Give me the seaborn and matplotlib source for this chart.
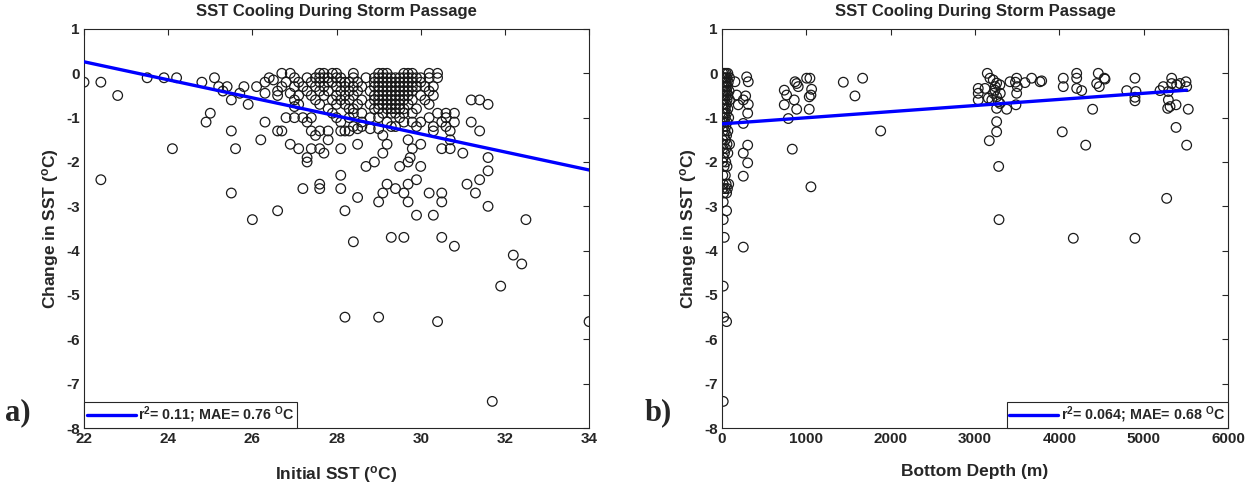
import matplotlib
matplotlib.use('Agg')
import matplotlib.pyplot as plt
import pandas as pd
import seaborn as sns

# ---- panel a) : initial SST vs change in SST ----
# scattered points (initial SST in degC, change in SST in degC)
sst_sparse = [
    (22.0, -0.2), (22.4, -0.2), (22.8, -0.5), (22.4, -2.4), (23.5, -0.1), (23.9, -0.1),
    (24.2, -0.1), (24.1, -1.7), (24.8, -0.2), (24.9, -1.1), (25.0, -0.9), (25.1, -0.1),
    (25.2, -0.3), (25.3, -0.4), (25.4, -0.3), (25.5, -0.6), (25.5, -1.3), (25.6, -1.7),
    (25.5, -2.7), (25.7, -0.45), (25.8, -0.3), (25.9, -0.7), (26.0, -3.3), (26.1, -0.3),
    (26.2, -1.5), (26.3, -0.45), (26.5, -0.15), (26.6, -0.5), (26.6, -3.1), (26.6, -1.3),
    (26.7, -1.3), (26.8, -1.0), (26.9, -0.45), (26.9, -1.6), (27.0, -0.6), (27.0, -1.0),
    (27.0, -0.75), (27.1, -0.7), (27.1, -1.7), (27.2, -2.6), (27.3, -1.9), (27.3, -2.0),
    (27.4, -1.0), (27.4, -1.3), (27.4, -1.7), (27.5, -1.4), (27.6, -1.3), (27.6, -1.7),
    (27.6, -2.5), (27.6, -2.6), (27.7, -1.8), (27.8, -1.3), (27.8, -1.5), (27.9, -0.9),
    (28.0, -1.0), (28.1, -1.1), (28.1, -1.3), (28.1, -1.7), (28.1, -2.3), (28.1, -2.6),
    (28.2, -1.3), (28.2, -3.1), (28.2, -5.5), (28.3, -1.3), (28.4, -0.9), (28.4, -1.2),
    (28.4, -3.8), (28.5, -1.25), (28.5, -1.6), (28.5, -2.8), (28.6, -1.2), (28.7, -2.1),
    (28.8, -1.25), (28.9, -2.0), (29.0, -1.25), (29.0, -2.9), (29.0, -5.5), (29.1, -1.4),
    (29.1, -1.8), (29.1, -2.7), (29.2, -1.6), (29.2, -2.5), (29.3, -3.7), (29.4, -1.2),
    (29.4, -2.6), (29.5, -2.1), (29.6, -1.1), (29.6, -2.7), (29.6, -3.7), (29.7, -1.5),
    (29.7, -2.0), (29.7, -2.5), (29.7, -2.9), (29.75, -1.9), (29.8, -1.7), (29.9, -2.4),
    (29.9, -3.2), (30.0, -1.6), (30.0, -2.1), (30.2, -2.7), (30.3, -1.3), (30.3, -3.2),
    (30.4, -0.9), (30.4, -5.6), (30.5, -1.1), (30.5, -1.7), (30.5, -2.7), (30.5, -2.9),
    (30.5, -3.7), (30.6, -0.9), (30.7, -1.3), (30.7, -1.5), (30.7, -1.7), (30.8, -0.9),
    (30.8, -1.1), (30.8, -3.9), (31.0, -1.8), (31.1, -2.5), (31.2, -0.6), (31.2, -1.1),
    (31.3, -2.7), (31.4, -0.6), (31.4, -1.3), (31.4, -2.4), (31.6, -0.7), (31.6, -1.9),
    (31.6, -2.2), (31.6, -3.0), (31.7, -7.4), (31.9, -4.8), (32.2, -4.1), (32.4, -4.3),
    (32.5, -3.3), (34.0, -5.6),
]
# dense band near zero: change-in-SST level and the initial SST of each circle on it
sst_rows_dy = [0.0, -0.1, -0.2, -0.3, -0.4, -0.5, -0.6, -0.7, -0.8, -0.9, -1.0, -1.1, -1.2]
sst_rows_x = [
    [26.7, 26.9, 27.6, 27.7, 27.9, 28.0, 28.4, 29.0, 29.1, 29.2, 29.6, 29.7, 29.8, 30.2, 30.4],
    [26.4, 27.0, 27.3, 27.5, 27.6, 27.7, 27.8, 28.0, 28.1, 28.4, 28.7, 28.9, 29.0, 29.1, 29.2,
     29.3, 29.4, 29.5, 29.6, 29.7, 29.8, 29.9, 30.0, 30.2, 30.4],
    [26.3, 26.8, 27.1, 27.4, 27.6, 27.8, 27.9, 28.1, 28.2, 28.3, 28.5, 28.9, 29.0, 29.1, 29.2,
     29.3, 29.4, 29.5, 29.6, 29.7, 29.8, 30.0],
    [26.7, 27.0, 27.2, 27.5, 27.7, 28.0, 28.2, 28.4, 28.6, 28.9, 29.0, 29.1, 29.2, 29.3, 29.4,
     29.5, 29.6, 29.7, 29.8, 29.9, 30.1, 30.3],
    [26.6, 27.3, 27.6, 27.8, 28.1, 28.3, 28.5, 28.8, 29.0, 29.1, 29.2, 29.3, 29.4, 29.5, 29.6,
     29.7, 29.8, 30.2],
    [27.1, 27.4, 27.7, 28.0, 28.2, 28.4, 28.9, 29.0, 29.1, 29.2, 29.3, 29.4, 29.5, 29.6, 29.7,
     30.0, 30.3],
    [27.5, 27.9, 28.1, 28.3, 28.6, 28.9, 29.0, 29.1, 29.2, 29.3, 29.4, 29.5, 29.6, 29.8, 30.1],
    [27.6, 28.0, 28.2, 28.5, 28.8, 29.0, 29.1, 29.2, 29.3, 29.4, 29.5, 29.7, 30.2],
    [27.8, 28.3, 28.4, 28.9, 29.0, 29.2, 29.3, 29.4, 29.5, 29.6, 29.9],
    [28.6, 29.1, 29.3, 29.4, 29.6, 29.8],
    [27.2, 28.3, 28.8, 29.0, 29.5, 30.2, 30.6],
    [26.3, 27.3, 28.6, 29.2, 29.8, 30.0],
    [29.3, 29.9, 30.3, 30.6],
]
sst_fit_x = [22, 34]
sst_fit_y = [0.26, -2.18]
sst_fit_label = 'r$^2$= 0.11; MAE= 0.76 $^{O}$C'

# ---- panel b) : bottom depth vs change in SST ----
depth_sparse = [
    (154, -0.19), (174, -0.49), (193, -0.71), (293, -0.08), (312, -0.19), (281, -0.51),
    (312, -0.7), (305, -0.9), (253, -0.6), (253, -1.13), (305, -1.62), (253, -1.8),
    (305, -2.02), (253, -2.32), (253, -3.92), (739, -0.38), (767, -0.49), (739, -0.71),
    (866, -0.19), (886, -0.23), (904, -0.3), (857, -0.6), (886, -0.81), (787, -1.02),
    (1004, -0.11), (1043, -0.11), (1063, -0.36), (1035, -0.53), (1055, -0.49), (1035, -0.81),
    (834, -1.71), (1055, -2.56), (1439, -0.2), (1577, -0.51), (1668, -0.11), (1882, -1.3),
    (3146, 0.0), (3178, -0.11), (3217, -0.15), (3257, -0.22), (3296, -0.26), (3039, -0.34),
    (3039, -0.45), (3039, -0.6), (3119, -0.34), (3158, -0.56), (3237, -0.38), (3257, -0.53),
    (3277, -0.64), (3257, -0.79), (3296, -0.68), (3257, -1.09), (3257, -1.32), (3170, -1.52),
    (3281, -2.1), (3285, -3.3), (3376, -0.81), (3415, -0.19), (3494, -0.11), (3502, -0.3),
    (3494, -0.45), (3486, -0.71), (3593, -0.21), (3672, -0.11), (3771, -0.19), (3791, -0.17),
    (3220, -0.45), (3240, -0.3), (3200, -0.6), (3300, -0.45), (3480, -0.2),
    (4047, -0.11), (4047, -0.3), (4206, 0.0), (4206, -0.11), (4206, -0.34), (4265, -0.39),
    (4462, 0.0), (4443, -0.23), (4474, -0.3), (4534, -0.11), (4542, -0.13), (4395, -0.81),
    (4035, -1.32), (4313, -1.62), (4166, -3.72), (4799, -0.39), (4897, -0.11), (4909, -0.41),
    (4897, -0.54), (4897, -0.62), (4897, -3.72), (5194, -0.39), (5233, -0.3), (5332, -0.11),
    (5332, -0.23), (5391, -0.26), (5431, -0.23), (5502, -0.19), (5510, -0.3), (5293, -0.41),
    (5293, -0.6), (5313, -0.75), (5384, -0.71), (5285, -0.79), (5529, -0.81), (5384, -1.22),
    (5510, -1.62), (5273, -2.82),
]
# the column of shallow stations (depth < 100 m), one row per change-in-SST level
depth_rows_dy = [0.0, -0.1, -0.2, -0.3, -0.4, -0.5, -0.6, -0.7, -0.8, -0.9, -1.0, -1.1,
                 -1.2, -1.3, -1.4, -1.5, -1.6, -1.7, -1.8, -1.9, -2.0, -2.1, -2.3, -2.5,
                 -2.6, -2.7, -2.9, -3.1, -3.3, -3.7, -4.8, -5.5, -5.6, -7.4]
depth_rows_x = [
    [10, 30, 50, 70], [5, 20, 40, 60, 90], [10, 30, 50, 75], [5, 25, 45, 65],
    [15, 35, 55, 85], [5, 25, 45, 70], [15, 35, 60, 90], [5, 25, 50], [15, 40, 70],
    [5, 30, 55], [15, 40, 80], [5, 30, 60], [20, 45], [10, 35, 70], [25, 55], [5, 40],
    [20, 60, 90], [10, 45], [30, 70], [15], [5, 45], [25, 60], [10, 40], [15, 50, 80],
    [5, 35, 65], [20, 55], [15], [55], [15], [27], [15], [20], [55], [15],
]
depth_fit_x = [0, 5510]
depth_fit_y = [-1.14, -0.38]
depth_fit_label = 'r$^2$= 0.064; MAE= 0.68 $^{O}$C'


def to_frame(sparse, rows_dy, rows_x, xname):
    """ Flattens the scattered pairs and the row lists into one df """
    xs = [p[0] for p in sparse]
    ys = [p[1] for p in sparse]
    for dy, row in zip(rows_dy, rows_x):
        xs += row
        ys += [dy] * len(row)
    return pd.DataFrame({xname: xs, 'dsst': ys})


df_sst = to_frame(sst_sparse, sst_rows_dy, sst_rows_x, 'sst')
df_depth = to_frame(depth_sparse, depth_rows_dy, depth_rows_x, 'depth')

sns.set_style('white')
plt.rcParams['font.family'] = ['Liberation Sans', 'DejaVu Sans']
plt.rcParams['font.weight'] = 'bold'
plt.rcParams['axes.unicode_minus'] = False
plt.rcParams['mathtext.fontset'] = 'custom'
plt.rcParams['mathtext.rm'] = 'Liberation Sans:bold'
plt.rcParams['mathtext.it'] = 'Liberation Sans:bold'
plt.rcParams['mathtext.bf'] = 'Liberation Sans:bold'
plt.rcParams['mathtext.default'] = 'rm'

fig = plt.figure(figsize=(12.56, 4.84), dpi=100)
ax1 = fig.add_axes([0.0669, 0.1157, 0.4021, 0.8244])
ax2 = fig.add_axes([0.5748, 0.1157, 0.4029, 0.8244])

panels = [
    (ax1, df_sst, 'sst', sst_fit_x, sst_fit_y, sst_fit_label, 'lower left',
     (22, 34), range(22, 35, 2), 'Initial SST ($^{o}$C)'),
    (ax2, df_depth, 'depth', depth_fit_x, depth_fit_y, depth_fit_label, 'lower right',
     (0, 6000), range(0, 6001, 1000), 'Bottom Depth (m)'),
]

for ax, df, xcol, fx, fy, flabel, loc, xlim, xticks, xlabel in panels:
    sns.scatterplot(data=df, x=xcol, y='dsst', ax=ax, marker='o', s=48,
                    facecolor='none', edgecolor='#1a1a1a', linewidth=0.9, zorder=2)
    sns.lineplot(x=fx, y=fy, ax=ax, color='#0000ff', linewidth=2.4, label=flabel, zorder=3)
    ax.set_xlim(*xlim)
    ax.set_ylim(-8, 1)
    ax.set_xticks(list(xticks))
    ax.set_yticks(range(-8, 2))
    ax.set_xlabel(xlabel, fontsize=12.5, fontweight='bold', labelpad=13)
    ax.set_ylabel('Change in SST ($^{o}$C)', fontsize=12.5, fontweight='bold', labelpad=4)
    ax.set_title('SST Cooling During Storm Passage', fontsize=12, fontweight='bold', pad=9)
    ax.tick_params(direction='in', length=4, width=0.8, top=True, right=True,
                   labelsize=11, colors='#262626', pad=3)
    for lbl in ax.get_xticklabels() + ax.get_yticklabels():
        lbl.set_fontweight('bold')
    for sp in ax.spines.values():
        sp.set_visible(True)
        sp.set_color('#262626')
        sp.set_linewidth(0.8)
    leg = ax.legend(loc=loc, frameon=True, fancybox=False, edgecolor='#262626',
                    framealpha=1, borderaxespad=0, handlelength=3.4, handletextpad=0.2,
                    borderpad=0.2, prop={'size': 10.3, 'weight': 'bold'})
    leg.get_frame().set_linewidth(0.8)

fig.text(0.004, 0.147, 'a)', fontsize=22, fontweight='bold',
         family=['Liberation Serif', 'DejaVu Serif'], va='center')
fig.text(0.513, 0.147, 'b)', fontsize=22, fontweight='bold',
         family=['Liberation Serif', 'DejaVu Serif'], va='center')

fig.savefig('out.png', dpi=100)
